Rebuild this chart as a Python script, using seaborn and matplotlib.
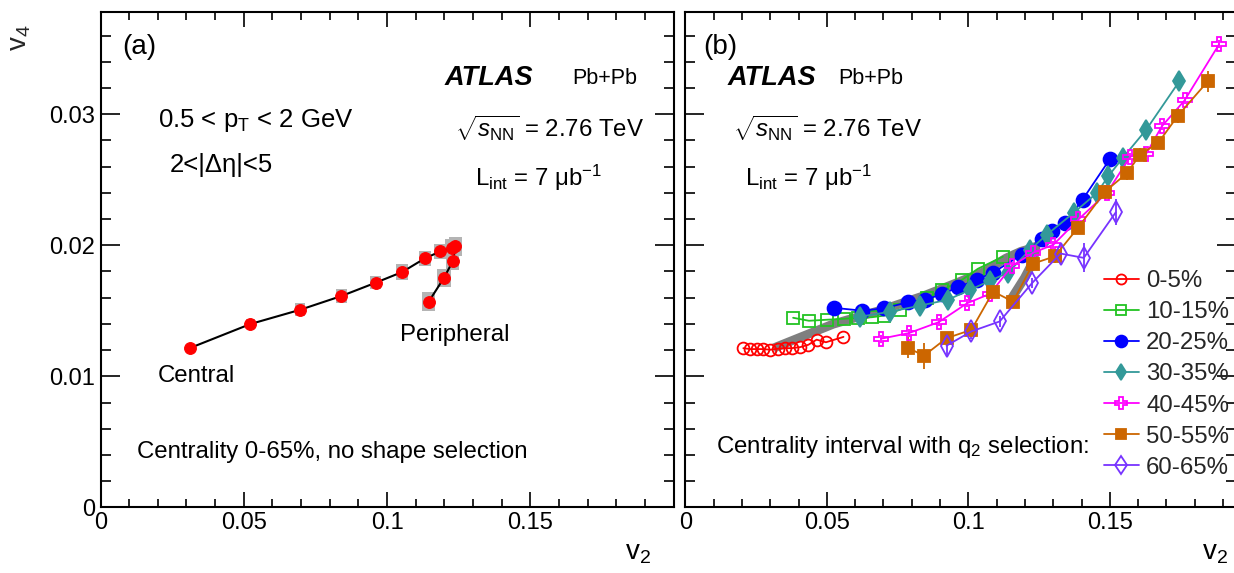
import numpy as np
import pandas as pd
import matplotlib
matplotlib.use("Agg")
import matplotlib.pyplot as plt
import seaborn as sns
from matplotlib.patches import Rectangle
from matplotlib.ticker import MultipleLocator, FuncFormatter

# ---------------- data ----------------
# panel (a): centrality 0-65%, no shape selection
a_v2 = [0.0311, 0.0523, 0.0697, 0.0841, 0.0960, 0.1053, 0.1132, 0.1186, 0.1227, 0.1239, 0.1230, 0.1199, 0.1146]
a_v4 = [0.01215, 0.01399, 0.01508, 0.01613, 0.01714, 0.01796, 0.01900, 0.01953, 0.01979, 0.01992, 0.01880, 0.01752, 0.01571]
a_sys_v2 = [0.0010, 0.0016, 0.0017, 0.0019, 0.0019, 0.0020, 0.0021, 0.0022, 0.0023, 0.0024, 0.0023, 0.0023, 0.0023]
a_sys_v4 = [0.0003, 0.0004, 0.0005, 0.0005, 0.0005, 0.0006, 0.0006, 0.0006, 0.0007, 0.0007, 0.0007, 0.0007, 0.0007]

# panel (b): centrality intervals with q2 selection
c0_v2 = [0.0205, 0.0229, 0.0253, 0.0276, 0.0300, 0.0329, 0.0353, 0.0376, 0.0406, 0.0435, 0.0464, 0.0497, 0.0559]
c0_v4 = [0.01215, 0.01208, 0.01208, 0.01208, 0.01203, 0.01211, 0.01215, 0.01215, 0.01223, 0.01241, 0.01280, 0.01260, 0.01301]
c10_v2 = [0.0381, 0.0437, 0.0500, 0.0560, 0.0610, 0.0659, 0.0702, 0.0759, 0.0855, 0.0907, 0.0978, 0.1034, 0.1122]
c10_v4 = [0.01447, 0.01424, 0.01432, 0.01439, 0.01447, 0.01451, 0.01463, 0.01509, 0.01600, 0.01657, 0.01737, 0.01821, 0.01913]
c20_v2 = [0.0524, 0.0626, 0.0703, 0.0788, 0.0847, 0.0907, 0.0964, 0.1031, 0.1087, 0.1189, 0.1259, 0.1296, 0.1343, 0.1404, 0.1501]
c20_v4 = [0.01523, 0.01501, 0.01520, 0.01566, 0.01585, 0.01626, 0.01680, 0.01738, 0.01791, 0.01929, 0.02047, 0.02107, 0.02171, 0.02349, 0.02660]
c30_v2 = [0.0617, 0.0723, 0.0829, 0.0928, 0.1007, 0.1077, 0.1141, 0.1218, 0.1278, 0.1372, 0.1455, 0.1494, 0.1546, 0.1629, 0.1746]
c30_v4 = [0.01455, 0.01493, 0.01539, 0.01585, 0.01661, 0.01730, 0.01791, 0.01967, 0.02082, 0.02247, 0.02400, 0.02525, 0.02667, 0.02883, 0.03252]
c40_v2 = [0.0692, 0.0790, 0.0895, 0.0996, 0.1077, 0.1155, 0.1230, 0.1301, 0.1389, 0.1490, 0.1572, 0.1629, 0.1684, 0.1764, 0.1886]
c40_v4 = [0.01287, 0.01330, 0.01413, 0.01558, 0.01630, 0.01844, 0.01944, 0.02005, 0.02197, 0.02400, 0.02677, 0.02700, 0.02908, 0.03105, 0.03533]
c40_err = [0.0003] * 15
c50_v2 = [0.0787, 0.0843, 0.0923, 0.1011, 0.1088, 0.1158, 0.1229, 0.1306, 0.1388, 0.1483, 0.1561, 0.1607, 0.1671, 0.1741, 0.1847]
c50_v4 = [0.01218, 0.01157, 0.01291, 0.01355, 0.01647, 0.01570, 0.01860, 0.01916, 0.02135, 0.02409, 0.02551, 0.02692, 0.02781, 0.02990, 0.03253]
c50_err = [0.0008, 0.0010, 0.0005, 0.0005, 0.0004, 0.0004, 0.0004, 0.0005, 0.0005, 0.0005, 0.0005, 0.0005, 0.0005, 0.0006, 0.0008]
c60_v2 = [0.0923, 0.1011, 0.1111, 0.1225, 0.1326, 0.1408, 0.1521]
c60_v4 = [0.01234, 0.01343, 0.01419, 0.01711, 0.01937, 0.01904, 0.02251]
c60_err = [0.0007, 0.0006, 0.0004, 0.0004, 0.0008, 0.0011, 0.0010]

labels_b = ["0-5%", "10-15%", "20-25%", "30-35%", "40-45%", "50-55%", "60-65%"]

x_ticks = [0, 0.05, 0.1, 0.15]
y_ticks = [0, 0.01, 0.02, 0.03]

# ---------------- style ----------------
sns.set_theme(style="ticks")
plt.rcParams["font.family"] = ["Liberation Sans", "DejaVu Sans"]
plt.rcParams["mathtext.fontset"] = "custom"
plt.rcParams["mathtext.rm"] = "Liberation Sans"
plt.rcParams["mathtext.it"] = "Liberation Sans:italic"
plt.rcParams["mathtext.bf"] = "Liberation Sans:bold"

W, H = 1234, 573
fig = plt.figure(figsize=(W / 100, H / 100), dpi=100)

def fx(px):
    return px / W

def fy(py):
    return 1 - py / H

bottom_px, top_px = 507.4, 12.0
ax_a = fig.add_axes([fx(100.5), fy(bottom_px), 573 / W, (bottom_px - top_px) / H])
ax_b = fig.add_axes([fx(685.3), fy(bottom_px), 550.5 / W, (bottom_px - top_px) / H])

FS = 17.3
TS = 17
fmt = FuncFormatter(lambda v, p: f"{v:g}")
for ax in (ax_a, ax_b):
    ax.set_ylim(0, 0.0378)
    ax.xaxis.set_major_locator(MultipleLocator(0.05))
    ax.xaxis.set_minor_locator(MultipleLocator(0.01))
    ax.yaxis.set_major_locator(MultipleLocator(0.01))
    ax.yaxis.set_minor_locator(MultipleLocator(0.002))
    ax.xaxis.set_major_formatter(fmt)
    ax.yaxis.set_major_formatter(fmt)
    ax.tick_params(axis="both", which="both", direction="in", top=True, right=True,
                   color="black", width=1.2, labelsize=TS, labelcolor="black")
    ax.tick_params(axis="x", which="major", length=11, pad=3)
    ax.tick_params(axis="x", which="minor", length=5.5)
    ax.tick_params(axis="y", which="major", length=14, pad=4)
    ax.tick_params(axis="y", which="minor", length=7.5)
    for s in ax.spines.values():
        s.set_linewidth(1.5)
        s.set_color("black")
    ax.set_facecolor("white")

ax_a.set_xlim(0, 0.2)
ax_b.set_xlim(0, 550.5 / 2830)
ax_b.set_xticks(x_ticks)
ax_a.set_xticks(x_ticks)
ax_a.set_yticks(y_ticks)
ax_b.set_yticks(y_ticks)
ax_b.tick_params(axis="y", labelleft=False)

# ---------------- panel (a) ----------------
for x, y, dx, dy in zip(a_v2, a_v4, a_sys_v2, a_sys_v4):
    ax_a.add_patch(Rectangle((x - dx, y - dy), 2 * dx, 2 * dy, facecolor="#b4b4b4",
                             edgecolor="none", zorder=2))
df_a = pd.DataFrame({"v2": a_v2, "v4": a_v4})
sns.lineplot(data=df_a, x="v2", y="v4", sort=False, estimator=None, ax=ax_a, color="black",
             linewidth=1.5, marker="o", markersize=8.5, markerfacecolor="#ff0000",
             markeredgecolor="#ff0000", zorder=3)
ax_a.set_xlabel("")
ax_a.set_ylabel("")

# ---------------- panel (b) ----------------
sns.lineplot(data=df_a, x="v2", y="v4", sort=False, estimator=None, ax=ax_b, color="#7f7f7f",
             linewidth=6.5, solid_capstyle="butt", zorder=1)

series = [
    (c0_v2, c0_v4, None, "#ff0000", "o", "none", 8.5),
    (c10_v2, c10_v4, None, "#22c322", "s", "none", 8.5),
    (c20_v2, c20_v4, None, "#0000ff", "o", "#0000ff", 10),
    (c30_v2, c30_v4, None, "#339999", "d", "#339999", 10),
    (c40_v2, c40_v4, c40_err, "#ff00ff", "P", "none", 9.5),
    (c50_v2, c50_v4, c50_err, "#cc6600", "s", "#cc6600", 8.5),
    (c60_v2, c60_v4, c60_err, "#7733ff", "d", "none", 11),
]
for (xv, yv, err, col, mk, mfc, ms), lab in zip(series, labels_b):
    if err is not None:
        ax_b.errorbar(xv, yv, yerr=err, fmt="none", ecolor=col, elinewidth=1.3, capsize=0, zorder=2)
    d = pd.DataFrame({"v2": xv, "v4": yv})
    sns.lineplot(data=d, x="v2", y="v4", sort=False, estimator=None, ax=ax_b, color=col,
                 linewidth=1.3, marker=mk, markersize=ms, markerfacecolor=mfc,
                 markeredgecolor=col, markeredgewidth=1.3, label=lab, zorder=3)
ax_b.set_xlabel("")
ax_b.set_ylabel("")

leg = ax_b.legend(loc="upper left", bbox_to_anchor=(fx(1104), fy(270)),
                  bbox_transform=fig.transFigure, frameon=False, fontsize=FS,
                  handlelength=1.45, handletextpad=0.3, labelspacing=0.38,
                  borderpad=0, borderaxespad=0, markerscale=0.85)

# ---------------- text ----------------
def T(px, py, s, **kw):
    kw.setdefault("fontsize", FS)
    kw.setdefault("va", "center")
    fig.text(fx(px), fy(py), s, color="black", **kw)

T(122, 47, "(a)", fontsize=20)
T(703, 47, "(b)", fontsize=20)
T(445, 78, "ATLAS", fontsize=19.5, fontweight="bold", fontstyle="italic")
T(572, 78, "Pb+Pb", fontsize=15.5)
T(728, 78, "ATLAS", fontsize=19.5, fontweight="bold", fontstyle="italic")
T(838, 78, "Pb+Pb", fontsize=15.5)
T(455, 128, r"$\sqrt{s_{\mathrm{NN}}}$ = 2.76 TeV")
T(733, 128, r"$\sqrt{s_{\mathrm{NN}}}$ = 2.76 TeV")
T(475, 178, r"L$_{\mathrm{int}}$ = 7 $\mathrm{\mu}$b$^{\mathrm{-1}}$")
T(745, 178, r"L$_{\mathrm{int}}$ = 7 $\mathrm{\mu}$b$^{\mathrm{-1}}$")
T(158, 120, r"0.5 < p$_{\mathrm{T}}$ < 2 GeV", fontsize=18.5)
T(170, 165, "2<|\u0394\u03b7|<5", fontsize=18.5)
T(158, 376, "Central")
T(400, 335, "Peripheral")
T(137, 452, "Centrality 0-65%, no shape selection")
T(716, 447, r"Centrality interval with q$_{\mathrm{2}}$ selection:")
T(651, 553, r"v$_{\mathrm{2}}$", ha="right", fontsize=20)
T(1228, 553, r"v$_{\mathrm{2}}$", ha="right", fontsize=20)
fig.text(fx(20), fy(24), r"v$_{\mathrm{4}}$", rotation=90, ha="center", va="top", fontsize=20)

fig.savefig("out.png", dpi=100, facecolor="white")
